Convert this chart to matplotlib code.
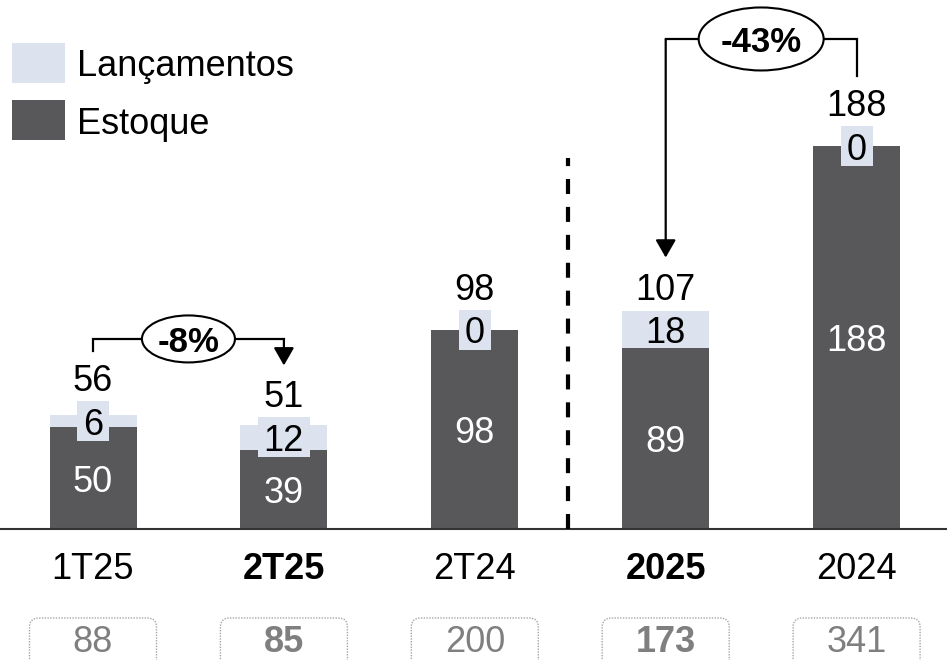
import numpy as np
import matplotlib.pyplot as plt
from matplotlib.patches import Rectangle, Ellipse, FancyBboxPatch

plt.rcParams['font.family'] = ['Liberation Sans', 'DejaVu Sans']

periods = ["1T25", "2T25", "2T24", "2025", "2024"]
bold_periods = ["2T25", "2025"]
estoque = [50, 39, 98, 89, 188]
lancamentos = [6, 12, 0, 18, 0]
box_values = [88, 85, 200, 173, 341]
# (from index, to index, label)
comparisons = [(0, 1, "-8%"), (4, 3, "-43%")]
bracket_levels = [93.4, 240.8]

COLOR_EST = "#58585A"
COLOR_LAN = "#DCE3EE"
COLOR_BOX_TXT = "#7F7F7F"

W, H, DPI = 947, 660, 100
fig = plt.figure(figsize=(W / DPI, H / DPI), dpi=DPI)
ax = fig.add_axes([0, 0, 1, 1])
ax.axis("off")

# pixel scale: x step 190.9 px per category, y 2.035 px per unit
XS, YS = 190.9, 2.035
x0_px, base_px = 93, 529
ax.set_xlim(-x0_px / XS, (W - x0_px) / XS)
ax.set_ylim(-(H - base_px) / YS, base_px / YS)


def px_y(p):
    return p / YS


def px_x(p):
    return p / XS


x = np.arange(len(periods))
est = np.array(estoque)
lan = np.array(lancamentos)
tot = est + lan
width = px_x(87)

ax.bar(x, est, width=width, color=COLOR_EST, zorder=2)
ax.bar(x, lan, width=width, bottom=est, color=COLOR_LAN, zorder=2)
ax.axhline(0, color="#333333", lw=1.5, zorder=3)

FS = 26
label_tops = []
for i in range(len(periods)):
    ax.text(x[i], est[i] / 2, str(est[i]), color="white", fontsize=FS,
            ha="center", va="center_baseline", zorder=4)
    mid = est[i] + lan[i] / 2
    # light box behind the launch value when the segment is too thin
    if lan[i] * YS < 34:
        bw = px_x(20 * len(str(lan[i])) + 12)
        ax.add_patch(Rectangle((x[i] - bw / 2, mid - px_y(20)), bw, px_y(40),
                               fc=COLOR_LAN, ec="none", zorder=4))
    ax.text(x[i], mid, str(lan[i]), color="black", fontsize=FS,
            ha="center", va="center_baseline", zorder=5)
    base = max(tot[i], mid + px_y(20)) + px_y(10)
    ax.text(x[i], base, str(tot[i]), color="black", fontsize=FS,
            ha="center", va="baseline", zorder=5)
    label_tops.append(base + px_y(26))

    bold = periods[i] in bold_periods
    ax.text(x[i], px_y(-36.5), periods[i], fontsize=FS, ha="center",
            va="center_baseline", fontweight="bold" if bold else "normal")

    bw = px_x(127)
    box = FancyBboxPatch((x[i] - bw / 2, px_y(-150)), bw, px_y(61),
                         boxstyle=f"round,pad=0,rounding_size={px_x(9)}",
                         mutation_aspect=XS / YS, fc="none", ec="#A6A6A6",
                         lw=1.0, ls=(0, (1, 1)), zorder=3)
    ax.add_patch(box)
    ax.text(x[i], px_y(-109.5), str(box_values[i]), fontsize=FS,
            color=COLOR_BOX_TXT, ha="center", va="center_baseline",
            fontweight="bold" if bold else "normal")

# separator between quarters and years
ax.plot([2.49, 2.49], [0, px_y(371)], color="black", lw=3,
        ls=(0, (3.6, 3.1)), zorder=3)

# comparison brackets
ell_sizes = [(93, 47), (125, 63)]
for (a, b, txt), level, (ew, eh) in zip(comparisons, bracket_levels, ell_sizes):
    y_from = label_tops[a] + px_y(14)
    y_to = label_tops[b] + px_y(16)
    ax.plot([x[a], x[a], x[b]], [y_from, level, level], color="black",
            lw=1.6, solid_joinstyle="miter", zorder=6)
    ax.annotate("", xy=(x[b], y_to), xytext=(x[b], level),
                arrowprops=dict(arrowstyle="-|>,head_length=0.54,head_width=0.31",
                                mutation_scale=20, color="black", lw=1.6,
                                shrinkA=0, shrinkB=0), zorder=6)
    cx = (x[a] + x[b]) / 2
    ax.add_patch(Ellipse((cx, level), px_x(ew), px_y(eh), fc="white",
                         ec="black", lw=1.5, zorder=7))
    ax.text(cx, level, txt, fontsize=25, fontweight="bold", ha="center",
            va="center_baseline", zorder=8)

# legend
legend_items = [("Lançamentos", COLOR_LAN, 63), ("Estoque", COLOR_EST, 120)]
for name, col, cy in legend_items:
    fig.patches.append(Rectangle((12 / W, (H - cy - 20) / H), 53 / W, 40 / H,
                                 transform=fig.transFigure, fc=col, ec="none"))
    fig.text(77 / W, (H - cy) / H, name, fontsize=26, ha="left",
             va="center_baseline")

fig.savefig("out.png", dpi=DPI)
